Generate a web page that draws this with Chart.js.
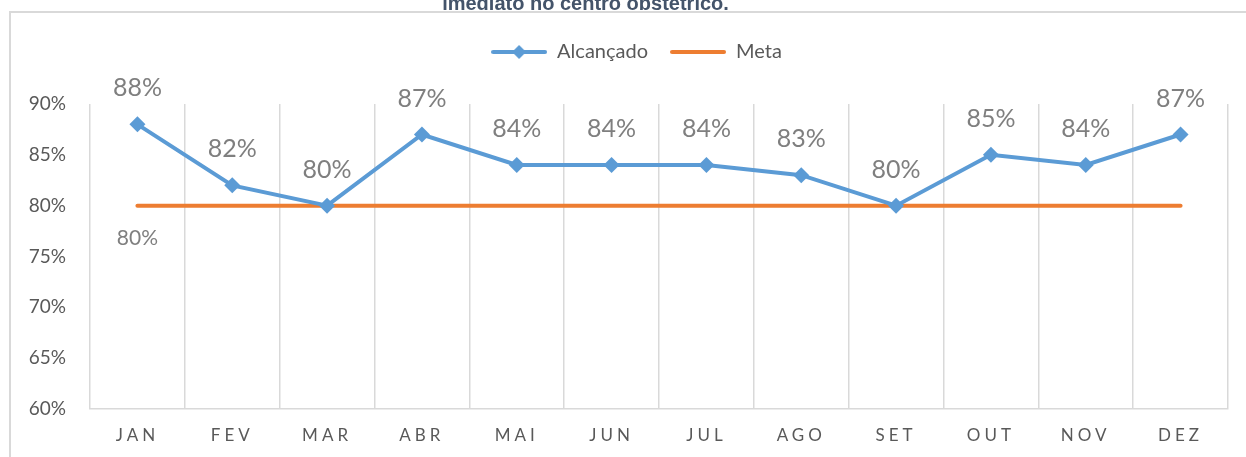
<!DOCTYPE html>
<html>
<head>
<meta charset="utf-8">
<script src="https://cdn.jsdelivr.net/npm/chart.js@4/dist/chart.umd.min.js"></script>
<style>
  html, body { margin: 0; padding: 0; background: #fff; overflow: hidden; }
  #wrap { position: absolute; left: 0; top: -20px; width: 1246px; height: 477px; }
</style>
</head>
<body>
<div id="wrap"><canvas id="chart" width="1246" height="477"></canvas></div>
<script>
// dados
const meses = ['JAN', 'FEV', 'MAR', 'ABR', 'MAI', 'JUN', 'JUL', 'AGO', 'SET', 'OUT', 'NOV', 'DEZ'];
const alcancado = [88, 82, 80, 87, 84, 84, 84, 83, 80, 85, 84, 87];
const meta = [80, 80, 80, 80, 80, 80, 80, 80, 80, 80, 80, 80];
const yTicks = [60, 65, 70, 75, 80, 85, 90];

const AZUL = '#5B9BD5';
const LARANJA = '#ED7D31';
const CINZA = '#595959';
const GRADE = '#D9D9D9';

// marcadores da legenda (linha + losango)
function legendMarker(color, diamond) {
  const c = document.createElement('canvas');
  c.width = 56; c.height = 16;
  const g = c.getContext('2d');
  g.strokeStyle = color;
  g.lineWidth = 4;
  g.lineCap = 'round';
  g.beginPath(); g.moveTo(2, 8); g.lineTo(54, 8); g.stroke();
  if (diamond) {
    g.fillStyle = color;
    g.beginPath(); g.moveTo(28, 1); g.lineTo(35, 8); g.lineTo(28, 15); g.lineTo(21, 8); g.closePath(); g.fill();
  }
  return c;
}

// moldura do gráfico
const moldura = {
  id: 'moldura',
  afterDraw(chart) {
    const ctx = chart.ctx;
    ctx.save();
    ctx.strokeStyle = GRADE;
    ctx.lineWidth = 2;
    ctx.beginPath();
    ctx.moveTo(10, chart.height);
    ctx.lineTo(10, 32);
    ctx.lineTo(chart.width, 32);
    ctx.stroke();
    ctx.restore();
  }
};

// espaço extra sob a legenda, letras espaçadas no eixo x, posição do título/legenda
const ajustes = {
  id: 'ajustes',
  beforeLayout(chart) {
    const lg = chart.legend;
    if (lg && !lg._extra) {
      const fit = lg.fit.bind(lg);
      lg.fit = function () { fit(); this.height += 32; };
      lg._extra = true;
    }
  },
  afterLayout(chart) {
    const sc = chart.scales.x;
    if (!sc._spaced) {
      const orig = sc.drawLabels.bind(sc);
      sc.drawLabels = (area) => {
        chart.ctx.save();
        chart.ctx.letterSpacing = '4px';
        orig(area);
        chart.ctx.restore();
      };
      sc._spaced = true;
    }
    chart.legend.left += 18;
    chart.legend.right += 18;
    chart.titleBlock.left -= 33;
    chart.titleBlock.right -= 33;
  }
};

// rótulos de dados
const rotulos = {
  id: 'rotulos',
  afterDatasetsDraw(chart) {
    const ctx = chart.ctx;
    ctx.save();
    ctx.textAlign = 'center';
    ctx.textBaseline = 'middle';
    ctx.fillStyle = '#7F7F7F';
    ctx.font = '25px Lato';
    chart.getDatasetMeta(0).data.forEach((pt, i) => {
      ctx.fillText(alcancado[i] + '%', pt.x, pt.y - 36);
    });
    const p0 = chart.getDatasetMeta(1).data[0];
    ctx.font = '21px Lato';
    ctx.fillText(meta[0] + '%', p0.x, p0.y + 33);
    ctx.restore();
  }
};

const ctx = document.getElementById('chart').getContext('2d');
new Chart(ctx, {
  type: 'line',
  data: {
    labels: meses,
    datasets: [
      {
        label: 'Alcançado',
        data: alcancado,
        borderColor: AZUL,
        backgroundColor: AZUL,
        borderWidth: 4,
        pointStyle: 'rectRot',
        pointRadius: 8,
        pointBackgroundColor: AZUL,
        pointBorderWidth: 0,
        tension: 0
      },
      {
        label: 'Meta',
        data: meta,
        borderColor: LARANJA,
        backgroundColor: LARANJA,
        borderWidth: 4,
        borderCapStyle: 'round',
        pointRadius: 0,
        tension: 0
      }
    ]
  },
  options: {
    responsive: false,
    animation: false,
    layout: { padding: { left: 9, right: 18, top: 0, bottom: 0 } },
    plugins: {
      title: {
        display: true,
        text: 'imediato no centro obstétrico.',
        color: '#44546A',
        font: { family: 'Liberation Sans', size: 20, weight: 'bold' },
        padding: { top: 12, bottom: 4 }
      },
      legend: {
        display: true,
        labels: {
          color: CINZA,
          font: { family: 'Lato', size: 20 },
          usePointStyle: true,
          pointStyleWidth: 56,
          padding: 22,
          generateLabels: (chart) => chart.data.datasets.map((ds, i) => ({
            text: ds.label,
            fontColor: CINZA,
            pointStyle: legendMarker(ds.borderColor, i === 0),
            lineWidth: 0,
            strokeStyle: 'transparent',
            fillStyle: ds.borderColor,
            datasetIndex: i
          }))
        }
      },
      tooltip: { enabled: false }
    },
    scales: {
      x: {
        offset: true,
        afterFit: (s) => { s.height = 48; },
        grid: { display: true, offset: true, color: GRADE, lineWidth: 1.5, drawTicks: false },
        border: { display: true, color: GRADE, width: 1.5 },
        ticks: { color: CINZA, font: { family: 'Lato', size: 17 }, padding: 16 }
      },
      y: {
        min: 60,
        max: 90,
        afterBuildTicks: (s) => { s.ticks = yTicks.map(v => ({ value: v })); },
        afterFit: (s) => { s.width = 81; },
        grid: { display: false },
        border: { display: false },
        ticks: { color: CINZA, font: { family: 'Lato', size: 19 }, padding: 16, callback: v => v + '%' }
      }
    }
  },
  plugins: [moldura, ajustes, rotulos]
});
</script>
</body>
</html>
